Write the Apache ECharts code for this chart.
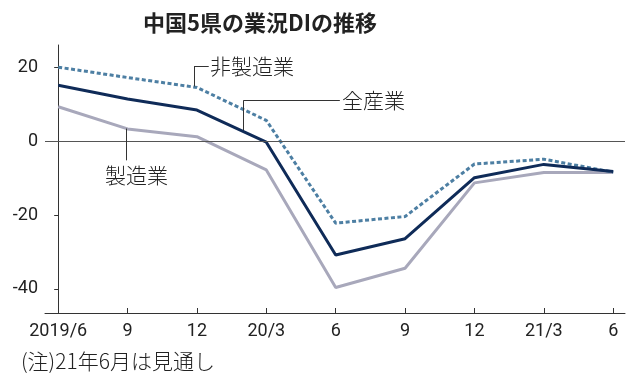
<!DOCTYPE html>
<html>
<head>
<meta charset="utf-8">
<script src="https://cdn.jsdelivr.net/npm/echarts@6/dist/echarts.min.js"></script>
<style>
html,body{margin:0;padding:0;background:#fff;}
#c{width:638px;height:383px;}
</style>
</head>
<body>
<div id="c"></div>
<script>
var categories = ['2019/6','9','12','20/3','6','9','12','21/3','6'];
var nonManufacturing = [20, 17.2, 14.5, 5.6, -22.2, -20.4, -6.2, -4.9, -8.4];
var allIndustries = [15.1, 11.4, 8.4, -0.3, -30.8, -26.4, -9.9, -6.3, -8.2];
var manufacturing = [9.3, 3.3, 1.2, -7.8, -39.6, -34.4, -11.3, -8.5, -8.5];
var yTicks = [-40, -20, 0, 20];

var numFont = 'Roboto';
var jpFont = '"Noto Sans CJK JP"';

function pairs(arr){ return arr.map(function(v,i){ return [i, v]; }); }

var chart = echarts.init(document.getElementById('c'), null, {renderer:'canvas'});
var leaderStyle = {color:'#333', width:1, type:'solid'};
chart.setOption({
  animation:false,
  backgroundColor:'#fff',
  title:{
    text:'中国5県の業況DIの推移',
    left:138, top:7,
    textStyle:{fontFamily:jpFont, fontSize:22, fontWeight:'bold', color:'#222'}
  },
  grid:{left:45, right:13, top:45, bottom:70},
  xAxis:{
    type:'value', min:-0.19, max:8.17,
    axisLine:{show:true, onZero:false, lineStyle:{color:'#333', width:1}},
    axisTick:{show:true, inside:true, length:5, customValues:[0,1,2,3,4,5,6,7,8], lineStyle:{color:'#333'}},
    axisLabel:{customValues:[0,1,2,3,4,5,6,7,8], margin:9, color:'#222', fontFamily:numFont, fontSize:18,
      formatter:function(v){ return categories[Math.round(v)]; }},
    splitLine:{show:false}
  },
  yAxis:{
    type:'value', min:-46.5, max:26,
    axisLine:{show:true, lineStyle:{color:'#333', width:1}},
    axisTick:{show:true, inside:false, length:4, customValues:yTicks, lineStyle:{color:'#333'}},
    axisLabel:{customValues:yTicks, margin:7, color:'#222', fontFamily:numFont, fontSize:18},
    splitLine:{show:false}
  },
  series:[
    {
      type:'line', name:'製造業', data:pairs(manufacturing), symbol:'none',
      lineStyle:{color:'#a8a8bb', width:3}, z:2,
      markLine:{
        silent:true, symbol:'none', label:{show:false},
        lineStyle:{color:'#555', width:1, type:'solid'},
        data:[{yAxis:0}]
      }
    },
    {
      type:'line', name:'全産業', data:pairs(allIndustries), symbol:'none',
      lineStyle:{color:'#0f2b58', width:3}, z:4
    },
    {
      type:'line', name:'非製造業', data:pairs(nonManufacturing), symbol:'none',
      lineStyle:{color:'#4d7fa3', width:3, type:[4,2.5]}, z:3
    },
    {
      type:'line', data:[], symbol:'none', silent:true,
      markLine:{
        silent:true, symbol:'none', label:{show:false}, lineStyle:leaderStyle,
        data:[
          [{coord:[1.96,14.8]},{coord:[1.96,20.3]}],
          [{coord:[1.96,20.3]},{coord:[2.17,20.3]}],
          [{coord:[2.67,3.0]},{coord:[2.67,11.0]}],
          [{coord:[2.67,11.0]},{coord:[4.06,11.0]}],
          [{coord:[0.98,3.4]},{coord:[0.98,-5.2]}]
        ]
      },
      markPoint:{
        silent:true, symbol:'circle', symbolSize:0,
        label:{show:true, fontFamily:jpFont, fontSize:21, fontWeight:300, color:'#222'},
        data:[
          {coord:[2.19,20.3], label:{formatter:'非製造業', position:'right', distance:0}},
          {coord:[4.09,11.0], label:{formatter:'全産業', position:'right', distance:0}},
          {coord:[1.13,-9.3], label:{formatter:'製造業', position:'inside'}}
        ]
      }
    }
  ],
  graphic:[
    {type:'text', left:21, top:351, style:{text:'(注)21年6月は見通し', fontFamily:jpFont, fontSize:21, fontWeight:300, fill:'#222'}}
  ]
});
</script>
</body>
</html>
